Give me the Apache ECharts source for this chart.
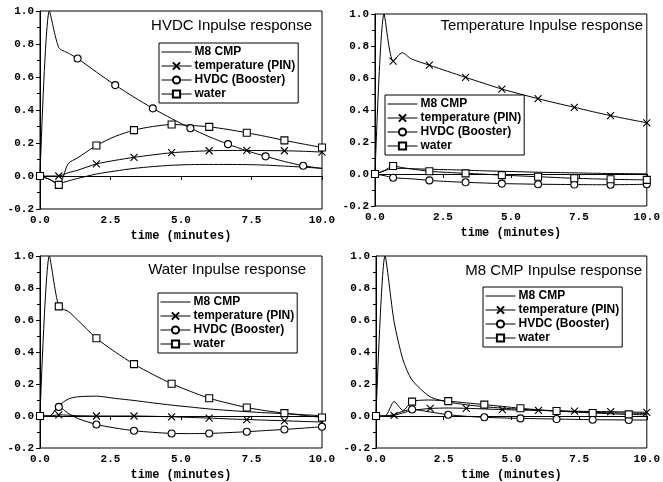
<!DOCTYPE html>
<html>
<head>
<meta charset="utf-8">
<script src="https://cdn.jsdelivr.net/npm/echarts@6/dist/echarts.min.js"></script>
<style>
  html, body { margin: 0; padding: 0; background: #fff; }
  #chart { width: 663px; height: 482px; }
</style>
</head>
<body>
<div id="chart"></div>
<script>
// Sample times (minutes) shared by every response curve
const timeMin = [0, 0.333, 0.667, 1.0, 1.333, 2.0, 2.667, 3.333, 4.0, 4.667, 5.333, 6.0, 6.667, 7.333, 8.0, 8.667, 9.333, 10.0];

const seriesNames = ['M8 CMP', 'temperature (PIN)', 'HVDC (Booster)', 'water'];
const panelTitles = ['HVDC Inpulse response', 'Temperature Inpulse response', 'Water Inpulse response', 'M8 CMP Inpulse response'];
const xTickValues = [0, 2.5, 5, 7.5, 10];
const yTickValues = [-0.2, 0, 0.2, 0.4, 0.6, 0.8, 1.0];

// HVDC impulse response
const hvdcM8    = [0, -0.02, -0.045, -0.03, -0.015, 0.012, 0.03, 0.046, 0.057, 0.065, 0.069, 0.07, 0.07, 0.069, 0.066, 0.06, 0.054, 0.046];
const hvdcTemp  = [0, 0.0, 0.0, 0.02, 0.035, 0.073, 0.095, 0.113, 0.128, 0.141, 0.148, 0.153, 0.155, 0.155, 0.154, 0.153, 0.15, 0.145];
const hvdcHvdc  = [0, 1.0, 0.778, 0.745, 0.712, 0.63, 0.551, 0.478, 0.41, 0.348, 0.29, 0.238, 0.193, 0.153, 0.119, 0.088, 0.062, 0.046];
const hvdcWater = [0, -0.02, -0.054, 0.075, 0.11, 0.185, 0.24, 0.278, 0.3, 0.312, 0.307, 0.298, 0.282, 0.262, 0.24, 0.216, 0.194, 0.173];

// Temperature impulse response
const tempM8    = [0, 0.02, 0.035, 0.035, 0.033, 0.03, 0.027, 0.024, 0.02, 0.017, 0.014, 0.011, 0.009, 0.007, 0.005, 0.003, 0.002, 0.001];
const tempTemp  = [0, 1.0, 0.706, 0.758, 0.72, 0.68, 0.642, 0.604, 0.567, 0.531, 0.5, 0.471, 0.443, 0.417, 0.39, 0.365, 0.342, 0.32];
const tempHvdc  = [0, -0.01, -0.023, -0.027, -0.03, -0.04, -0.047, -0.052, -0.056, -0.06, -0.062, -0.064, -0.065, -0.066, -0.067, -0.067, -0.066, -0.064];
const tempWater = [0, 0.02, 0.05, 0.04, 0.032, 0.017, 0.01, 0.004, -0.001, -0.007, -0.012, -0.017, -0.022, -0.027, -0.03, -0.033, -0.035, -0.037];

// Water impulse response
const waterM8    = [0, 0.0, 0.064, 0.106, 0.12, 0.124, 0.11, 0.097, 0.082, 0.068, 0.056, 0.044, 0.035, 0.027, 0.02, 0.015, 0.008, 0.002];
const waterTemp  = [0, 0.0, 0.007, 0.005, 0.002, 0.0, 0.0, 0.0, -0.002, -0.005, -0.009, -0.013, -0.018, -0.022, -0.026, -0.03, -0.034, -0.038];
const waterHvdc  = [0, 0.0, 0.057, 0.017, -0.015, -0.053, -0.075, -0.092, -0.102, -0.109, -0.11, -0.109, -0.104, -0.098, -0.091, -0.084, -0.076, -0.067];
const waterWater = [0, 1.0, 0.685, 0.654, 0.6, 0.486, 0.4, 0.324, 0.26, 0.202, 0.154, 0.111, 0.08, 0.053, 0.033, 0.018, 0.004, -0.009];

// M8 CMP impulse response
const cmpM8    = [0, 1.0, 0.59, 0.35, 0.225, 0.12, 0.088, 0.07, 0.058, 0.049, 0.042, 0.036, 0.031, 0.027, 0.023, 0.02, 0.018, 0.015];
const cmpTemp  = [0, 0.0, 0.004, 0.02, 0.035, 0.047, 0.05, 0.048, 0.044, 0.04, 0.037, 0.035, 0.033, 0.03, 0.028, 0.027, 0.025, 0.023];
const cmpHvdc  = [0, 0.0, 0.01, 0.03, 0.041, 0.025, 0.008, -0.002, -0.008, -0.012, -0.015, -0.017, -0.019, -0.021, -0.023, -0.024, -0.025, -0.025];
const cmpWater = [0, 0.0, 0.09, 0.035, 0.09, 0.1, 0.093, 0.082, 0.071, 0.06, 0.048, 0.039, 0.031, 0.025, 0.019, 0.014, 0.01, 0.007];

// Sample indices that carry a marker
const markA = [0, 2, 5, 7, 9, 11, 13, 15, 17];
const markB = [0, 4, 6, 8, 10, 12, 14, 16];

const panelValues = [
  [hvdcM8, hvdcTemp, hvdcHvdc, hvdcWater],
  [tempM8, tempTemp, tempHvdc, tempWater],
  [waterM8, waterTemp, waterHvdc, waterWater],
  [cmpM8, cmpTemp, cmpHvdc, cmpWater]
];
const panelMarks = [
  [[], markA, markB, markA],
  [[], markA, markA, markA],
  [[], markA, markA, markA],
  [[], markA, markB, markB]
];

const grids = [
  { left: 40,  right: 341, top: 11,  bottom: 273 },
  { left: 375, right: 13,  top: 14,  bottom: 276 },
  { left: 40,  right: 341, top: 256, bottom: 33 },
  { left: 376, right: 12,  top: 256, bottom: 33 }
];
const titlePos = [
  { right: 351, top: 18 },
  { right: 20,  top: 18 },
  { right: 357, top: 262 },
  { right: 21,  top: 263 }
];
const legendPos = [
  { left: 159, top: 43 },
  { left: 385, top: 95 },
  { left: 158, top: 293 },
  { left: 483, top: 287 }
];

const symbolFor = [
  'none',
  'path://M0,0L10,10M10,0L0,10',
  'circle',
  'rect'
];

// The plain M8 CMP line keeps its legend icon as a bare line
const markerStyle = [
  { color: 'rgba(0,0,0,0)', borderColor: 'rgba(0,0,0,0)', borderWidth: 0 },
  { color: '#fff', borderColor: '#000', borderWidth: 1.1 },
  { color: '#fff', borderColor: '#000', borderWidth: 1.1 },
  { color: '#fff', borderColor: '#000', borderWidth: 1.1 }
];

const monoLabel = { fontFamily: 'Liberation Mono', fontWeight: 'bold', fontSize: 11, color: '#000' };

const option = {
  animation: false,
  backgroundColor: '#fff',
  title: panelTitles.map((t, p) => ({
    text: t,
    right: titlePos[p].right,
    top: titlePos[p].top,
    padding: 0,
    textStyle: { fontFamily: 'Liberation Sans', fontSize: 15, fontWeight: 'normal', color: '#000' }
  })),
  legend: legendPos.map(pos => ({
    data: seriesNames,
    orient: 'vertical',
    left: pos.left,
    top: pos.top,
    itemWidth: 30,
    itemHeight: 9,
    itemGap: 2,
    padding: [3, 3, 3, 2],
    borderColor: '#000',
    borderWidth: 1,
    backgroundColor: '#fff',
    selectedMode: false,
    lineStyle: { width: 1, color: '#000' },
    textStyle: { fontFamily: 'Liberation Sans', fontSize: 12, fontWeight: 'bold', color: '#000', padding: [0, 0, 0, -2] }
  })),
  grid: grids.map(g => Object.assign({ show: true, borderColor: '#000', borderWidth: 1, backgroundColor: 'transparent' }, g)),
  xAxis: grids.map((g, p) => ({
    type: 'value',
    gridIndex: p,
    min: xTickValues[0],
    max: xTickValues[xTickValues.length - 1],
    interval: xTickValues[1] - xTickValues[0],
    name: 'time (minutes)',
    nameLocation: 'middle',
    nameGap: 21,
    nameTextStyle: { fontFamily: 'Liberation Mono', fontWeight: 'bold', fontSize: 12, color: '#000' },
    axisLine: { show: true, lineStyle: { color: '#000', width: 1 } },
    axisTick: { show: true, length: 4, lineStyle: { color: '#000' } },
    splitLine: { show: false },
    axisLabel: Object.assign({ margin: 6, formatter: v => v.toFixed(1) }, monoLabel)
  })),
  yAxis: grids.map((g, p) => ({
    type: 'value',
    gridIndex: p,
    min: yTickValues[0],
    max: yTickValues[yTickValues.length - 1],
    interval: yTickValues[1] - yTickValues[0],
    axisLine: { show: true, lineStyle: { color: '#000', width: 1 } },
    axisTick: { show: true, length: 4, lineStyle: { color: '#000' } },
    minorTick: { show: true, splitNumber: 2, length: 3, lineStyle: { color: '#000' } },
    splitLine: { show: false },
    axisLabel: Object.assign({ margin: 6, formatter: v => v.toFixed(1) }, monoLabel)
  })),
  series: []
};

panelValues.forEach((vals, p) => {
  vals.forEach((arr, s) => {
    const marks = panelMarks[p][s];
    option.series.push({
      type: 'line',
      name: seriesNames[s],
      xAxisIndex: p,
      yAxisIndex: p,
      smooth: 0.25,
      symbol: symbolFor[s],
      symbolSize: 7,
      showAllSymbol: true,
      itemStyle: markerStyle[s],
      lineStyle: { color: '#000', width: 1 },
      emphasis: { disabled: true },
      data: arr.map((y, i) => {
        const item = { value: [timeMin[i], y] };
        if (marks.indexOf(i) < 0) item.symbol = 'none';
        return item;
      })
    });
  });
});

const chart = echarts.init(document.getElementById('chart'), null, { renderer: 'canvas' });
chart.setOption(option);
</script>
</body>
</html>
